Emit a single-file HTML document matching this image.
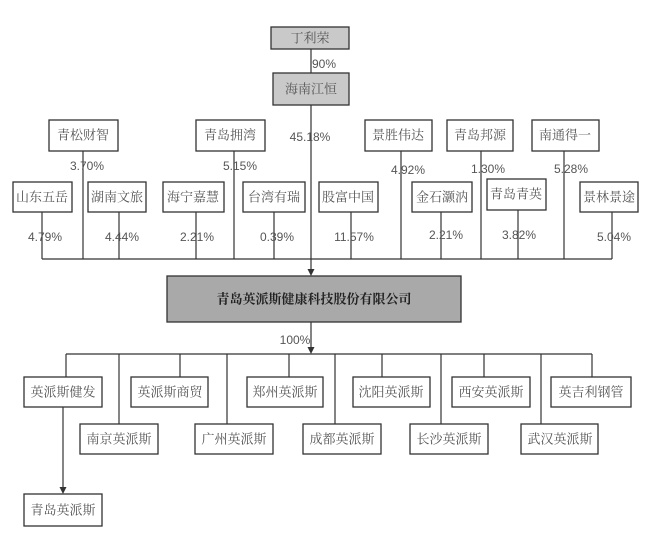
<!DOCTYPE html>
<html><head><meta charset="utf-8"><style>
html,body{margin:0;padding:0;background:#fff;}
svg{display:block;}
text{font-family:"Liberation Serif","Noto Serif CJK SC","Noto Sans CJK SC",serif;}
.b{fill:#fff;stroke:#333;stroke-width:1.3;}
.g{fill:#c9c9c9;stroke:#333;stroke-width:1.3;}
.t{font-size:13px;fill:#555;text-anchor:middle;dominant-baseline:central;}
.p{font-size:12px;fill:#555;text-anchor:middle;dominant-baseline:central;font-family:"Liberation Sans",sans-serif;}
.l{stroke:#333;stroke-width:1.2;fill:none;}
.ah{fill:#333;}
</style></head><body>
<svg width="651" height="535" viewBox="0 0 651 535" xmlns="http://www.w3.org/2000/svg">
<!-- top -->
<rect class="g" x="271" y="27" width="78" height="22"/><text class="t" x="310" y="38">丁利荣</text>
<line class="l" x1="311" y1="49" x2="311" y2="73"/>
<text class="p" x="324" y="64">90%</text>
<rect class="g" x="273" y="73" width="76" height="32"/><text class="t" x="311" y="89">海南江恒</text>
<line class="l" x1="311" y1="105" x2="311" y2="270"/>
<polygon class="ah" points="307.5,269 314.5,269 311,276"/>
<text class="p" x="310" y="137">45.18%</text>
<!-- row1 -->
<rect class="b" x="49" y="120" width="69" height="31"/><text class="t" x="83" y="135">青松财智</text>
<rect class="b" x="196" y="120" width="69" height="31"/><text class="t" x="230" y="135">青岛拥湾</text>
<rect class="b" x="365" y="120" width="67" height="31"/><text class="t" x="398" y="135">景胜伟达</text>
<rect class="b" x="447" y="120" width="66" height="31"/><text class="t" x="480" y="135">青岛邦源</text>
<rect class="b" x="532" y="120" width="67" height="31"/><text class="t" x="565" y="135">南通得一</text>
<line class="l" x1="83" y1="151" x2="83" y2="259"/>
<line class="l" x1="234" y1="151" x2="234" y2="259"/>
<line class="l" x1="401" y1="151" x2="401" y2="259"/>
<line class="l" x1="481" y1="151" x2="481" y2="259"/>
<line class="l" x1="564" y1="151" x2="564" y2="259"/>
<text class="p" x="87" y="166">3.70%</text>
<text class="p" x="240" y="166">5.15%</text>
<text class="p" x="408" y="170">4.92%</text>
<text class="p" x="488" y="169">1.30%</text>
<text class="p" x="571" y="169">5.28%</text>
<!-- row2 -->
<rect class="b" x="13" y="182" width="59" height="30"/><text class="t" x="42" y="197">山东五岳</text>
<rect class="b" x="88" y="182" width="58" height="30"/><text class="t" x="117" y="197">湖南文旅</text>
<rect class="b" x="163" y="182" width="61" height="30"/><text class="t" x="193" y="197">海宁嘉慧</text>
<rect class="b" x="243" y="182" width="62" height="30"/><text class="t" x="274" y="197">台湾有瑞</text>
<rect class="b" x="319" y="182" width="59" height="30"/><text class="t" x="348" y="197">股富中国</text>
<rect class="b" x="412" y="182" width="60" height="30"/><text class="t" x="442" y="197">金石灏汭</text>
<rect class="b" x="487" y="179" width="59" height="31"/><text class="t" x="516" y="194">青岛青英</text>
<rect class="b" x="580" y="182" width="58" height="30"/><text class="t" x="609" y="197">景林景途</text>
<line class="l" x1="42" y1="212" x2="42" y2="259"/>
<line class="l" x1="119" y1="212" x2="119" y2="259"/>
<line class="l" x1="196" y1="212" x2="196" y2="259"/>
<line class="l" x1="274" y1="212" x2="274" y2="259"/>
<line class="l" x1="351" y1="212" x2="351" y2="259"/>
<line class="l" x1="441" y1="212" x2="441" y2="259"/>
<line class="l" x1="518" y1="210" x2="518" y2="259"/>
<line class="l" x1="612" y1="212" x2="612" y2="259"/>
<text class="p" x="45" y="237">4.79%</text>
<text class="p" x="122" y="237">4.44%</text>
<text class="p" x="197" y="237">2.21%</text>
<text class="p" x="277" y="237">0.39%</text>
<text class="p" x="354" y="237">11.57%</text>
<text class="p" x="446" y="235">2.21%</text>
<text class="p" x="519" y="235">3.82%</text>
<text class="p" x="614" y="237">5.04%</text>
<line class="l" x1="42" y1="259" x2="612" y2="259"/>
<!-- main -->
<rect class="g" x="167" y="276" width="294" height="46" style="fill:#a9a9a9"/>
<text class="t" x="314" y="299" style="fill:#222;font-weight:bold">青岛英派斯健康科技股份有限公司</text>
<line class="l" x1="311" y1="322" x2="311" y2="348"/>
<polygon class="ah" points="307.5,347 314.5,347 311,354"/>
<text class="p" x="295" y="340">100%</text>
<line class="l" x1="66" y1="354" x2="592" y2="354"/>
<!-- row A -->
<line class="l" x1="66" y1="354" x2="66" y2="377"/>
<line class="l" x1="180" y1="354" x2="180" y2="377"/>
<line class="l" x1="289" y1="354" x2="289" y2="377"/>
<line class="l" x1="382" y1="354" x2="382" y2="377"/>
<line class="l" x1="484" y1="354" x2="484" y2="377"/>
<line class="l" x1="592" y1="354" x2="592" y2="377"/>
<rect class="b" x="24" y="377" width="78" height="30"/><text class="t" x="63" y="392">英派斯健发</text>
<rect class="b" x="131" y="377" width="77" height="30"/><text class="t" x="170" y="392">英派斯商贸</text>
<rect class="b" x="247" y="377" width="76" height="30"/><text class="t" x="285" y="392">郑州英派斯</text>
<rect class="b" x="353" y="377" width="77" height="30"/><text class="t" x="391" y="392">沈阳英派斯</text>
<rect class="b" x="452" y="377" width="78" height="30"/><text class="t" x="491" y="392">西安英派斯</text>
<rect class="b" x="551" y="377" width="80" height="30"/><text class="t" x="591" y="392">英吉利钢管</text>
<!-- row B -->
<line class="l" x1="119" y1="354" x2="119" y2="424"/>
<line class="l" x1="227" y1="354" x2="227" y2="424"/>
<line class="l" x1="335" y1="354" x2="335" y2="424"/>
<line class="l" x1="441" y1="354" x2="441" y2="424"/>
<line class="l" x1="541" y1="354" x2="541" y2="424"/>
<rect class="b" x="80" y="424" width="78" height="30"/><text class="t" x="119" y="439">南京英派斯</text>
<rect class="b" x="195" y="424" width="78" height="30"/><text class="t" x="234" y="439">广州英派斯</text>
<rect class="b" x="303" y="424" width="78" height="30"/><text class="t" x="342" y="439">成都英派斯</text>
<rect class="b" x="410" y="424" width="78" height="30"/><text class="t" x="449" y="439">长沙英派斯</text>
<rect class="b" x="521" y="424" width="77" height="30"/><text class="t" x="560" y="439">武汉英派斯</text>
<line class="l" x1="63" y1="407" x2="63" y2="488"/>
<polygon class="ah" points="59.5,487 66.5,487 63,494"/>
<rect class="b" x="24" y="494" width="78" height="32"/><text class="t" x="63" y="510">青岛英派斯</text>
</svg>
</body></html>
